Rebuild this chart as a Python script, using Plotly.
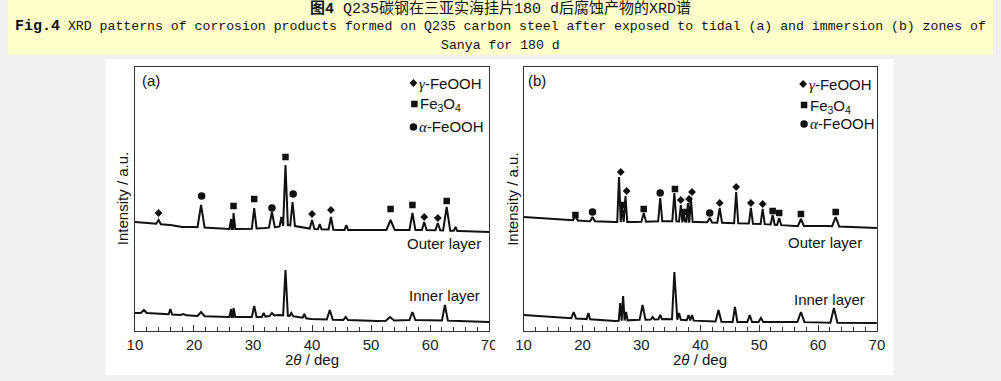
import numpy as np
import plotly.graph_objects as go

W, H = 1001, 381

# ---------------- data ----------------
# 2theta range / ticks
x_ticks = [10, 20, 30, 40, 50, 60, 70]

# Panel (a) tidal zone, outer layer
a_out_base_x = [10, 12, 14, 16, 18, 20, 23, 26, 29, 32, 34, 36, 38, 40, 45, 50, 55, 60, 65, 70]
a_out_base_y = [109, 108, 107, 106, 104, 104, 103, 102, 102, 103, 104, 106, 104, 102, 101, 101, 101, 101, 100, 99]
a_out_pk_x = [14.0, 21.2, 26.3, 26.7, 30.2, 33.2, 34.8, 35.5, 36.7, 40.0, 41.3, 43.2, 45.8, 53.3, 57.0, 59.0, 61.3, 62.8, 64.3]
a_out_pk_y = [111, 126, 112, 118, 123, 119, 114, 166, 129, 111, 107, 114, 106, 111, 118, 109, 108, 124, 104]
a_out_pk_w = [0.4, 0.6, 0.3, 0.3, 0.4, 0.5, 0.3, 0.4, 0.4, 0.4, 0.3, 0.4, 0.3, 0.7, 0.5, 0.4, 0.4, 0.6, 0.3]

# Panel (a) inner layer
a_in_base_x = [10, 12, 15, 20.5, 26, 31.5, 34.3, 36.5, 39.8, 45.5, 51, 56.5, 60, 64.8, 70]
a_in_base_y = [18, 18, 17, 15, 14, 14, 16, 15, 12, 11, 10, 11, 11, 10, 9]
a_in_pk_x = [11.5, 16.0, 18.2, 21.2, 26.3, 26.7, 30.2, 31.8, 33.2, 35.5, 36.5, 38.7, 43.0, 45.7, 53.2, 57.0, 62.5]
a_in_pk_y = [21, 22, 17, 19, 22, 23, 25, 18, 18, 61, 18, 17, 21, 14, 14, 19, 26]
a_in_pk_w = [0.5, 0.3, 0.5, 0.6, 0.3, 0.3, 0.4, 0.3, 0.4, 0.4, 0.3, 0.3, 0.5, 0.4, 0.7, 0.5, 0.5]

# Panel (a) phase markers
a_gamma_x = [14.0, 40.0, 43.2, 59.0, 61.3]
a_gamma_y = [118, 117, 121, 114, 113]
a_fe3o4_x = [26.7, 30.2, 35.5, 53.3, 57.0, 62.8]
a_fe3o4_y = [125, 132, 174, 122, 126, 130]
a_alpha_x = [21.3, 33.2, 36.8]
a_alpha_y = [135, 123, 137]

# Panel (b) immersion zone, outer layer
b_out_base_x = [10, 14.8, 20.5, 25.5, 28.9, 34.4, 39.4, 44.9, 50.6, 56.1, 61.6, 70]
b_out_base_y = [114, 112, 110, 109, 109, 110, 109, 108, 107, 105, 105, 103]
b_out_pk_x = [18.8, 21.7, 26.2, 26.7, 27.3, 30.4, 33.2, 35.6, 36.7, 37.2, 37.9, 38.4, 41.6, 43.3, 46.1, 48.6, 50.6, 52.3, 53.4, 57.1, 63.0]
b_out_pk_y = [115, 114, 154, 124, 135, 118, 133, 138, 126, 116, 128, 134, 113, 123, 139, 123, 122, 116, 113, 112, 114]
b_out_pk_w = [0.4, 0.4, 0.3, 0.25, 0.3, 0.4, 0.35, 0.35, 0.3, 0.25, 0.25, 0.3, 0.4, 0.4, 0.35, 0.35, 0.35, 0.35, 0.35, 0.5, 0.6]

# Panel (b) inner layer
b_in_base_x = [10, 14.8, 20.5, 25.5, 28.9, 34.4, 39.9, 45.6, 51.1, 56.6, 65, 70]
b_in_base_y = [16, 14, 12, 10, 11, 12, 10, 9, 9, 9, 8, 8]
b_in_pk_x = [18.5, 21.0, 26.4, 26.9, 27.4, 30.2, 31.9, 33.2, 35.6, 36.4, 38.0, 38.6, 43.1, 45.9, 48.4, 50.3, 57.1, 62.7]
b_in_pk_y = [19, 18, 28, 35, 19, 26, 14, 16, 59, 18, 16, 16, 21, 24, 16, 13, 19, 23]
b_in_pk_w = [0.4, 0.3, 0.25, 0.25, 0.25, 0.5, 0.3, 0.3, 0.4, 0.3, 0.3, 0.3, 0.5, 0.4, 0.4, 0.4, 0.6, 0.6]

# Panel (b) phase markers
b_gamma_x = [26.5, 27.5, 36.7, 38.1, 38.6, 43.3, 46.1, 48.6, 50.6]
b_gamma_y = [159, 140, 131, 132, 139, 128, 144, 128, 127]
b_fe3o4_x = [18.8, 27.0, 30.4, 35.7, 37.2, 52.3, 53.4, 57.1, 63.0]
b_fe3o4_y = [116, 126, 122, 142, 119, 120, 118, 117, 119]
b_alpha_x = [21.7, 33.2, 41.6]
b_alpha_y = [119, 138, 118]

# ---------------- helpers ----------------
def build_curve(bx, by, px_, py_, pw):
    bx = np.asarray(bx, float); by = np.asarray(by, float)
    pts = []
    for x, y in zip(bx, by):
        if not any(abs(x - p) < w for p, w in zip(px_, pw)):
            pts.append((x, y))
    for p, t, w in zip(px_, py_, pw):
        pts.append((p - w, float(np.interp(p - w, bx, by))))
        pts.append((p, t))
        pts.append((p + w, float(np.interp(p + w, bx, by))))
    pts.sort(key=lambda q: q[0])
    return [q[0] for q in pts], [q[1] for q in pts]

FONT = "Liberation Sans, Arial, sans-serif"
TFONT = "Liberation Mono, Noto Sans CJK SC, monospace"
INK = "#111111"

def X(px):
    return px / W

def Y(py):
    return 1 - py / H

fig = go.Figure()

panels = [
    dict(ax="x", ay="y", x0=129, x1=489,
         curves=[(a_out_base_x, a_out_base_y, a_out_pk_x, a_out_pk_y, a_out_pk_w),
                 (a_in_base_x, a_in_base_y, a_in_pk_x, a_in_pk_y, a_in_pk_w)],
         marks=[(a_gamma_x, a_gamma_y), (a_fe3o4_x, a_fe3o4_y), (a_alpha_x, a_alpha_y)]),
    dict(ax="x2", ay="y2", x0=524, x1=883,
         curves=[(b_out_base_x, b_out_base_y, b_out_pk_x, b_out_pk_y, b_out_pk_w),
                 (b_in_base_x, b_in_base_y, b_in_pk_x, b_in_pk_y, b_in_pk_w)],
         marks=[(b_gamma_x, b_gamma_y), (b_fe3o4_x, b_fe3o4_y), (b_alpha_x, b_alpha_y)]),
]

symbols = [("diamond", 6), ("square", 6.5), ("circle", 7.5)]

for pan in panels:
    for c in pan["curves"]:
        cx, cy = build_curve(*c)
        fig.add_trace(go.Scatter(x=cx, y=cy, mode="lines", xaxis=pan["ax"], yaxis=pan["ay"],
                                 line=dict(color=INK, width=2), showlegend=False, hoverinfo="skip"))
    for (mx, my), (sym, sz) in zip(pan["marks"], symbols):
        fig.add_trace(go.Scatter(x=mx, y=my, mode="markers", xaxis=pan["ax"], yaxis=pan["ay"],
                                 marker=dict(symbol=sym, size=sz, color=INK, line=dict(width=0)),
                                 showlegend=False, hoverinfo="skip"))

# legend symbols (pixel positions converted to each panel's data space)
leg_a = [(412, 83), (413, 104), (412, 127)]
leg_b = [(808, 84), (809, 105), (809, 124)]
for pan, leg in zip(panels, [leg_a, leg_b]):
    scale = (pan["x1"] - pan["x0"]) / 60.0
    for (lx, ly), (sym, sz) in zip(leg, symbols):
        fig.add_trace(go.Scatter(x=[10 + (lx - pan["x0"]) / scale], y=[331 - ly], mode="markers",
                                 xaxis=pan["ax"], yaxis=pan["ay"],
                                 marker=dict(symbol=sym, size=sz, color=INK, line=dict(width=0)),
                                 showlegend=False, hoverinfo="skip"))

def xax(x0, x1):
    return dict(domain=[X(x0), X(x1)], range=[10, 70], tickvals=x_ticks,
                ticks="inside", ticklen=6, tickwidth=1, tickcolor="#333",
                minor=dict(dtick=2, ticks="inside", ticklen=4, tickwidth=1, tickcolor="#333"),
                showline=True, linecolor="#333", linewidth=1, mirror=True,
                showgrid=False, zeroline=False,
                tickfont=dict(family=FONT, size=15, color="#222"), fixedrange=True)

def yax():
    return dict(domain=[Y(331), Y(67)], range=[0, 264], showticklabels=False, ticks="",
                showline=True, linecolor="#333", linewidth=1, mirror=True,
                showgrid=False, zeroline=False, fixedrange=True)

annotations = []

def ann(text, px, py, xa="center", ya="middle", size=15, family=FONT, angle=0):
    annotations.append(dict(text=text, x=X(px), y=Y(py), xref="paper", yref="paper",
                            xanchor=xa, yanchor=ya, showarrow=False, textangle=angle,
                            font=dict(family=family, size=size, color="#111")))

# title banner
ann("<b>图4</b> Q235碳钢在三亚实海挂片180 d后腐蚀产物的XRD谱", 500, 9, size=15, family=TFONT)
ann("<b><span style='font-size:15px'>Fig.4</span></b> XRD patterns of corrosion products formed on "
    "Q235 carbon steel after exposed to tidal (a) and immersion (b) zones of", 500, 27, size=13.2, family=TFONT)
ann("Sanya for 180 d", 501, 45, size=13.2, family=TFONT)

gamma = "<i><span style='font-family:Liberation Serif'>γ</span></i>-FeOOH"
alpha = "<i><span style='font-family:Liberation Serif'>α</span></i>-FeOOH"
fe = "Fe<sub>3</sub>O<sub>4</sub>"

for lab, lx, legpos, outer, inner, ytit_x, xtit_x in [
        ("(a)", 145.5, leg_a, (483, 243), (482, 295), 116, 309),
        ("(b)", 538, leg_b, (870, 242), (873, 299), 512, 703)]:
    ann(lab, lx, 80)
    for (sx, sy), t in zip(legpos, [gamma, fe, alpha]):
        ann(t, sx + 4, sy + (1 if t == fe else 0), xa="left")
    ann("Outer layer", outer[0], outer[1], xa="right")
    ann("Inner layer", inner[0], inner[1], xa="right")
    ann("Intensity / a.u.", ytit_x, 199, angle=-90)
    ann("2<i>θ</i> / deg", xtit_x, 359)

shapes = [
    dict(type="rect", xref="paper", yref="paper", x0=0, x1=1, y0=Y(55), y1=1,
         fillcolor="#FFFFCC", line=dict(width=0), layer="below"),
    dict(type="rect", xref="paper", yref="paper", x0=X(99), x1=X(900), y0=Y(375), y1=Y(59),
         fillcolor="white", line=dict(width=0), layer="below"),
    # cut-off of the right-most tick label of panel (a)
    dict(type="rect", xref="paper", yref="paper", x0=X(495), x1=X(510), y0=Y(352), y1=Y(334),
         fillcolor="white", line=dict(width=0), layer="above"),
]

fig.update_layout(
    width=W, height=H, margin=dict(l=0, r=0, t=0, b=0),
    paper_bgcolor="#F0F0F0", plot_bgcolor="rgba(0,0,0,0)",
    xaxis=xax(129, 489), yaxis=yax(),
    xaxis2=dict(xax(524, 883), anchor="y2"), yaxis2=dict(yax(), anchor="x2"),
    annotations=annotations, shapes=shapes, showlegend=False,
)
fig.update_layout(yaxis=dict(anchor="x"), xaxis=dict(anchor="y"))

fig.write_html("out.html", config={"displayModeBar": False, "staticPlot": True},
               post_script="document.body.style.margin='0';document.body.style.padding='0';"
                           "document.documentElement.style.overflow='hidden';")
